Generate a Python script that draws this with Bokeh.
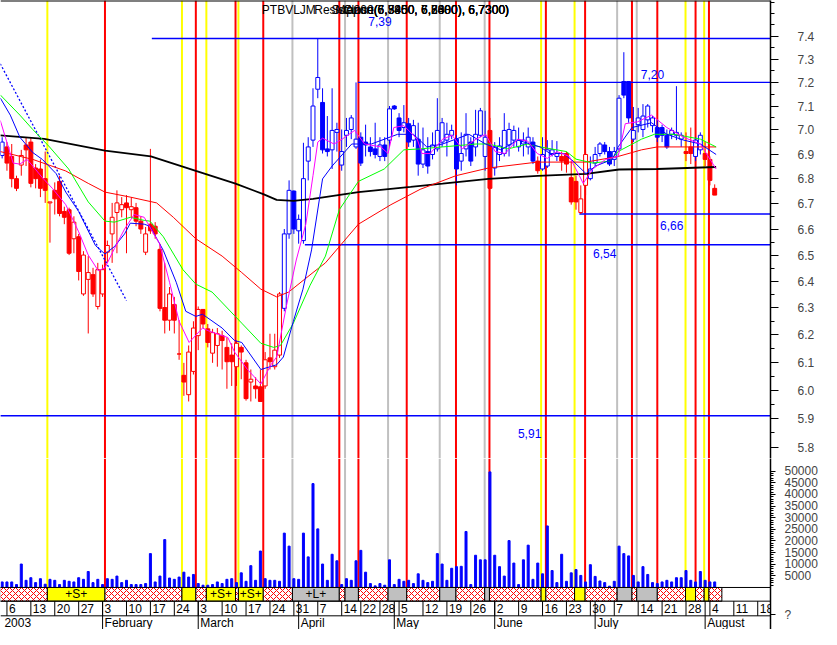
import pandas as pd
from bokeh.plotting import figure
from bokeh.models import (Range1d, LinearScale, LogAxis, LinearAxis, FixedTicker,
                          PrintfTickFormatter, Span, ColumnDataSource)
from bokeh.layouts import column
from bokeh.core.properties import value
from bokeh.embed import file_html
from bokeh.resources import INLINE

FONT = "Liberation Sans"

# ---------------- trading calendar (x = trading-day index, 0 = 3 Jan 2003)
HOLIDAYS = ["2003-04-18", "2003-04-21", "2003-05-01"]
dates = [d for d in pd.bdate_range("2003-01-03", "2003-08-22")
         if d.strftime("%Y-%m-%d") not in HOLIDAYS]

# ---------------- daily candles (price)
OPEN = [6.895, 6.930, 6.891, 6.801, 6.856, 6.938, 6.950, 6.844, 6.840, 6.801,
        6.704, 6.754, 6.790, 6.670, 6.677, 6.563, 6.571, 6.352, 6.407, 6.425,
        6.305, 6.352, 6.511, 6.582, 6.666, 6.677, 6.704, 6.677, 6.685, 6.632,
        6.511, 6.620, 6.612, 6.522, 6.301, 6.254, 6.312, 6.130, 6.053, 5.984,
        6.067, 6.197, 6.294, 6.222, 6.133, 6.161, 6.197, 6.154, 6.126, 6.084,
        6.154, 6.098, 6.029, 6.015, 6.012, 6.015, 6.116, 6.084, 6.126, 6.298,
        6.582, 6.751, 6.594, 6.556, 6.872, 6.958, 7.171, 7.115, 6.922, 6.918,
        6.990, 6.856, 6.978, 7.002, 6.930, 6.970, 6.950, 6.930, 6.922, 6.891,
        6.938, 6.958, 7.100, 7.050, 7.010, 7.026, 6.958, 6.962, 6.860, 6.911,
        6.899, 6.922, 6.950, 6.958, 6.978, 6.962, 6.872, 6.922, 6.950, 6.930,
        6.978, 6.891, 6.998, 6.844, 6.899, 6.903, 6.938, 6.958, 6.930, 6.942,
        6.930, 6.950, 6.872, 6.840, 6.852, 6.899, 6.891, 6.891, 6.903, 6.805,
        6.790, 6.666, 6.774, 6.801, 6.864, 6.903, 6.938, 6.911, 6.879, 6.922,
        7.204, 7.204, 6.962, 7.022, 7.002, 7.042, 7.018, 7.010, 7.010, 6.978,
        6.982, 6.978, 6.962, 6.911, 6.930, 6.891, 6.918, 6.903, 6.879, 6.762]
HIGH = [6.970, 6.950, 6.942, 6.813, 6.918, 6.970, 6.970, 6.860, 6.879, 6.911,
        6.708, 6.786, 6.813, 6.689, 6.685, 6.651, 6.582, 6.515, 6.496, 6.451,
        6.470, 6.463, 6.556, 6.704, 6.754, 6.727, 6.735, 6.727, 6.704, 6.651,
        6.609, 6.922, 6.628, 6.544, 6.470, 6.378, 6.341, 6.254, 6.098, 6.161,
        6.250, 6.305, 6.294, 6.240, 6.222, 6.225, 6.215, 6.190, 6.169, 6.179,
        6.161, 6.109, 6.074, 6.046, 6.074, 6.137, 6.204, 6.204, 6.359, 6.601,
        6.794, 6.754, 6.658, 6.947, 6.970, 7.175, 7.390, 7.175, 7.058, 7.175,
        7.030, 7.002, 7.050, 7.062, 7.200, 6.990, 7.022, 6.970, 7.030, 6.970,
        6.970, 7.100, 7.104, 7.070, 7.104, 7.050, 7.042, 7.030, 7.010, 6.970,
        6.990, 7.133, 7.050, 7.030, 7.022, 6.978, 6.990, 7.070, 6.970, 7.084,
        7.092, 7.080, 7.050, 6.950, 6.970, 7.070, 7.030, 7.018, 7.010, 6.990,
        7.010, 6.970, 6.891, 6.970, 6.958, 6.958, 6.954, 6.911, 6.911, 6.872,
        6.813, 6.774, 6.911, 6.891, 6.930, 6.950, 6.950, 6.930, 6.930, 7.146,
        7.330, 7.204, 7.096, 7.092, 7.108, 7.108, 7.058, 7.042, 7.022, 7.002,
        7.010, 7.184, 6.990, 6.990, 7.010, 6.970, 6.990, 6.950, 6.891, 6.778]
LOW = [6.883, 6.833, 6.766, 6.751, 6.813, 6.852, 6.766, 6.762, 6.727, 6.704,
       6.548, 6.658, 6.651, 6.620, 6.500, 6.507, 6.403, 6.345, 6.205, 6.341,
       6.294, 6.341, 6.470, 6.470, 6.507, 6.647, 6.507, 6.647, 6.612, 6.582,
       6.500, 6.582, 6.563, 6.287, 6.205, 6.215, 6.205, 6.109, 5.980, 5.960,
       6.056, 6.144, 6.225, 6.154, 6.098, 6.084, 6.074, 6.005, 6.015, 6.015,
       6.039, 5.963, 5.960, 5.970, 5.960, 6.005, 6.074, 6.074, 6.116, 6.287,
       6.563, 6.582, 6.544, 6.544, 6.794, 6.930, 7.133, 6.903, 6.891, 6.840,
       6.911, 6.833, 6.930, 6.962, 6.922, 6.852, 6.891, 6.891, 6.883, 6.872,
       6.872, 6.930, 7.084, 6.970, 6.990, 6.930, 6.930, 6.813, 6.844, 6.821,
       6.879, 6.911, 6.930, 6.891, 6.962, 6.774, 6.833, 6.891, 6.852, 6.891,
       6.970, 6.833, 6.544, 6.813, 6.872, 6.891, 6.891, 6.930, 6.911, 6.891,
       6.899, 6.860, 6.821, 6.833, 6.844, 6.891, 6.872, 6.833, 6.825, 6.697,
       6.677, 6.660, 6.735, 6.794, 6.852, 6.891, 6.899, 6.852, 6.852, 6.911,
       7.133, 7.030, 6.950, 6.990, 6.970, 7.010, 6.990, 6.950, 6.950, 6.922,
       6.962, 6.958, 6.930, 6.872, 6.860, 6.872, 6.899, 6.852, 6.774, 6.735]
CLOSE = [6.950, 6.864, 6.801, 6.762, 6.895, 6.918, 6.782, 6.801, 6.762, 6.754,
         6.708, 6.720, 6.662, 6.647, 6.507, 6.628, 6.437, 6.500, 6.433, 6.352,
         6.444, 6.444, 6.537, 6.647, 6.704, 6.697, 6.685, 6.689, 6.632, 6.601,
         6.582, 6.594, 6.582, 6.298, 6.254, 6.352, 6.254, 6.130, 6.029, 6.137,
         6.225, 6.294, 6.240, 6.172, 6.208, 6.204, 6.179, 6.102, 6.102, 6.169,
         6.137, 5.970, 6.039, 6.005, 5.960, 6.109, 6.102, 6.144, 6.352, 6.582,
         6.754, 6.601, 6.639, 6.801, 6.930, 7.100, 7.221, 6.918, 6.911, 6.998,
         7.002, 6.911, 6.998, 7.050, 6.962, 6.864, 6.938, 6.911, 6.899, 6.938,
         6.891, 7.088, 7.088, 6.998, 7.030, 6.950, 7.018, 6.860, 6.918, 6.852,
         6.938, 6.998, 7.030, 6.982, 6.998, 6.840, 6.903, 6.982, 6.872, 6.982,
         7.080, 6.970, 6.762, 6.930, 6.934, 6.998, 7.002, 6.998, 6.958, 6.958,
         6.970, 6.872, 6.833, 6.899, 6.918, 6.918, 6.903, 6.872, 6.860, 6.708,
         6.708, 6.720, 6.899, 6.840, 6.899, 6.942, 6.911, 6.860, 6.911, 7.133,
         7.146, 7.050, 6.998, 7.050, 7.058, 7.100, 7.050, 6.970, 6.978, 6.930,
         6.998, 6.990, 6.978, 6.903, 6.903, 6.958, 6.978, 6.879, 6.794, 6.735]
# candle colour regime, run-length coded: (colour, number of days)
TREND_RUNS = [("B", 1), ("R", 58), ("B", 43), ("R", 1), ("B", 9), ("R", 1), ("B", 4),
              ("R", 6), ("B", 20), ("R", 2), ("B", 2), ("R", 3)]
VOLUME = [2380, 2380, 2380, 1260, 10080, 3080, 4200, 2100, 3780, 1400,
          3500, 3080, 1260, 3080, 2660, 2380, 4200, 3500, 6860, 2100,
          3500, 1260, 3780, 3500, 4900, 2100, 3080, 1260, 1260, 1260,
          1680, 14560, 2380, 4900, 20580, 4060, 3500, 4480, 6580, 4480,
          5600, 1680, 980, 980, 1260, 2380, 1680, 3500, 3780, 2100,
          6300, 2660, 9380, 3080, 15680, 3780, 3080, 3080, 2660, 23380,
          17780, 3780, 3500, 23380, 13160, 44660, 25200, 10080, 3080, 14280,
          11480, 1260, 3780, 3080, 11480, 15960, 6580, 1680, 700, 1680,
          980, 11900, 1260, 3500, 2660, 3080, 1680, 5880, 3080, 2100,
          2660, 14560, 10080, 3080, 8260, 8960, 9100, 24080, 1260, 13860,
          11900, 11900, 49700, 13860, 8960, 4900, 20160, 10500, 1260, 11900,
          18200, 3500, 10500, 5880, 26460, 7280, 2100, 14280, 2660, 6300,
          7700, 5180, 2380, 9800, 4760, 2800, 2100, 560, 2660, 17780,
          14560, 13580, 5180, 2380, 8960, 5600, 2100, 1680, 2380, 3080,
          2380, 4200, 4200, 7280, 3080, 2380, 6860, 3080, 2380, 2380]

# ---------------- moving averages (day index, price)
MA5_IDX = [-0.4, 1.1, 2.3, 3.7, 5.2, 6.4, 8.4, 10.5, 13.3, 16, 18, 20.1, 21.5, 23.5, 25.6, 27.6,
           29.7, 30.3, 32.9, 35, 37, 39.1, 41.9, 43.1, 47.2, 48.6, 51.3, 54.1, 56.2, 57.4, 59.5,
           61.5, 63.5, 65, 66, 67, 69.4, 71.1, 73.7, 75.8, 79.2, 80.7, 81.9, 84, 86.8, 87.8, 89.5,
           92.1, 94.1, 96.2, 99.1, 101.1, 103.1, 105.2, 107.8, 109.9, 111.9, 114, 116, 118.6,
           120.7, 121.5, 123.5, 126.2, 128.8, 130.3, 132.9, 135.8, 139, 142.5, 146, 149.3]
MA5_VAL = [7.040, 6.942, 6.864, 6.860, 6.879, 6.852, 6.805, 6.762, 6.697, 6.590, 6.500, 6.440,
           6.451, 6.526, 6.601, 6.658, 6.647, 6.628, 6.544, 6.396, 6.250, 6.172, 6.225, 6.215,
           6.190, 6.137, 6.074, 6.022, 6.091, 6.119, 6.312, 6.481, 6.620, 6.813, 6.950, 6.966,
           6.942, 6.962, 6.998, 6.942, 6.930, 6.903, 7.010, 7.018, 6.962, 6.903, 6.903, 6.962,
           6.978, 6.922, 6.962, 6.982, 6.911, 6.903, 6.962, 6.954, 6.903, 6.883, 6.911, 6.891,
           6.813, 6.782, 6.840, 6.879, 6.891, 7.026, 7.034, 7.062, 7.010, 6.970, 6.942, 6.840]
MA10_IDX = [-0.4, 1.7, 3.7, 6.4, 8.4, 11.3, 13.3, 16, 19.5, 21.5, 23.5, 25.6, 26.8, 29.7, 30.9,
            33.7, 36.4, 38.4, 40.5, 41.9, 46, 48.6, 50.1, 54.1, 57.4, 58.8, 60.9, 62.9, 64.7, 67,
            69, 73.1, 77.2, 82.7, 86, 88.8, 92.1, 97.6, 101.1, 104.3, 107.8, 112.5, 114.6, 117.4,
            119.4, 122.1, 124.1, 127.6, 128.8, 131.7, 135.8, 139, 142.5, 146, 149.3]
MA10_VAL = [7.134, 7.062, 6.970, 6.907, 6.879, 6.821, 6.747, 6.670, 6.537, 6.504, 6.533, 6.582,
            6.624, 6.620, 6.612, 6.518, 6.396, 6.287, 6.268, 6.276, 6.225, 6.179, 6.172, 6.074,
            6.091, 6.119, 6.250, 6.370, 6.520, 6.800, 6.852, 6.942, 6.942, 6.982, 6.982, 6.930,
            6.942, 6.982, 6.942, 6.918, 6.958, 6.930, 6.903, 6.903, 6.872, 6.821, 6.852, 6.879,
            6.930, 7.010, 7.030, 6.982, 6.958, 6.942, 6.899]
MA20_IDX = [-0.4, 3.7, 6.4, 9.9, 13.9, 18, 21.5, 23.5, 26.8, 29.7, 30.9, 33.7, 37.8, 40.5, 43.9,
            50.1, 54.1, 56.8, 58.2, 60.9, 64.4, 67.6, 70.5, 74.5, 79.9, 84, 87.4, 92.1, 99.1,
            101.7, 105.8, 109.9, 112.5, 118, 120, 123.5, 127, 128.8, 133.7, 136.4, 140.5, 146, 149.3]
MA20_VAL = [7.147, 7.062, 7.002, 6.930, 6.840, 6.708, 6.632, 6.628, 6.647, 6.635, 6.632, 6.571,
            6.444, 6.389, 6.359, 6.243, 6.169, 6.154, 6.161, 6.243, 6.385, 6.496, 6.677, 6.790,
            6.840, 6.918, 6.922, 6.930, 6.942, 6.942, 6.922, 6.942, 6.930, 6.911, 6.880, 6.864,
            6.872, 6.911, 6.962, 6.982, 6.982, 6.962, 6.930]
MA50_IDX = [-0.4, 6.4, 13.3, 18, 21.5, 26.8, 32.3, 35.8, 40.5, 46, 50.1, 54.1, 57.4, 59.9, 65,
            67.6, 74.5, 81.3, 87.4, 94.9, 101.7, 111.9, 122.1, 128.8, 133.7, 137, 149.3]
MA50_VAL = [6.911, 6.879, 6.832, 6.782, 6.747, 6.727, 6.704, 6.647, 6.563, 6.496, 6.433, 6.370,
            6.341, 6.359, 6.433, 6.470, 6.620, 6.697, 6.758, 6.813, 6.844, 6.868, 6.868, 6.891,
            6.918, 6.930, 6.930]
MA200_IDX = [-0.4, 8.8, 21.5, 31.1, 40.5, 48.8, 54.6, 57.4, 60.9, 65, 74.5, 85.4, 92.1, 101.7,
             112, 122.1, 129, 137, 149.3]
MA200_VAL = [6.978, 6.963, 6.915, 6.891, 6.832, 6.781, 6.739, 6.716, 6.712, 6.720, 6.747, 6.768,
             6.781, 6.800, 6.812, 6.820, 6.838, 6.840, 6.848]
TRENDLINE_IDX = [-0.4, 26.0]
TRENDLINE_VAL = [7.280, 6.327]

# ---------------- support / resistance levels
LEVELS = [7.39, 7.20, 6.66, 6.54, 5.91]
LEVEL_START = [31.3, 74.4, 120.7, 63.3, -0.4]
LEVEL_TEXT = ["7,39", "7,20", "6,66", "6,54", "5,91"]
LEVEL_LABEL_IDX = [79.0, 136.0, 140.0, 126.0, 110.3]

# ---------------- signals (day position, kind: S = short, X = neutral, L = long)
SIGNAL_POS = [9.45, 21.5, 37.6, 40.5, 42.7, 48.8, 49.4, 54.6, 60.7, 70.5, 71.7, 74.5, 80.7, 84.6,
              91.5, 94.9, 100.9, 101.9, 112.7, 113.7, 119.7, 121.9, 128.6, 131.7, 132.7, 137.0,
              142.9, 145.0, 146.8, 147.8]
SIGNAL_KIND = ["S", "X", "S", "X", "S", "X", "S", "X", "L", "X", "L", "X", "L", "X",
               "L", "X", "L", "X", "S", "X", "S", "X", "L", "X", "L", "X",
               "S", "X", "S", "X"]
SIGNAL_FIRST_KIND = "X"
SIGNAL_START = -0.5
SIGNAL_END = 150.5

PRICE_TICKS = [5.8, 5.9, 6.0, 6.1, 6.2, 6.3, 6.4, 6.5, 6.6, 6.7, 6.8, 6.9, 7.0, 7.1, 7.2, 7.3, 7.4]
VOL_TICKS = [5000, 10000, 15000, 20000, 25000, 30000, 35000, 40000, 45000, 50000]
QMARK_POS = -11800   # position of the "?" marker on the volume scale

# ---------------- derived
n = len(CLOSE)
idx = list(range(n))
trend = [c for c, k in TREND_RUNS for _ in range(k)]
RED, BLUE = "#FF0000", "#0000FF"
ccol = [RED if t == "R" else BLUE for t in trend]
body_top = [max(o, c) for o, c in zip(OPEN, CLOSE)]
body_bot = [min(o, c) for o, c in zip(OPEN, CLOSE)]
body_fill = [col if c < o else "white" for col, o, c in zip(ccol, OPEN, CLOSE)]
LINE_COLOR = {"S": "#FFFF00", "X": "#FF0000", "L": "#C0C0C0"}

xr = Range1d(-0.347, 160.67)

# ================= price panel
top = figure(frame_width=770, frame_height=458, x_range=xr, y_range=Range1d(5.762, 7.558),
             y_axis_type="log", x_axis_location=None, y_axis_location=None,
             toolbar_location=None, output_backend="svg", min_border=0,
             outline_line_color=None)
top.grid.visible = False
top.extra_y_ranges = {"lay": Range1d(470, 0)}
top.extra_y_scales = {"lay": LinearScale()}

top.segment(x0=SIGNAL_POS, y0=470, x1=SIGNAL_POS, y1=0, y_range_name="lay",
            line_color=[LINE_COLOR[k] for k in SIGNAL_KIND], line_width=2)
top.add_layout(Span(location=0, dimension="width", y_range_name="lay",
                    line_color="black", line_width=2))
top.segment(x0=LEVEL_START, y0=LEVELS, x1=[xr.end] * len(LEVELS), y1=LEVELS,
            line_color=BLUE, line_width=1.4)
top.line(TRENDLINE_IDX, TRENDLINE_VAL, line_color=BLUE, line_width=1.3, line_dash="2 2")

top.segment(x0=idx, y0=LOW, x1=idx, y1=HIGH, line_color=ccol, line_width=1)
top.vbar(x=idx, width=0.82, top=body_top, bottom=body_bot, fill_color=body_fill,
         line_color=ccol, line_width=1)

top.line(MA200_IDX, MA200_VAL, line_color="black", line_width=1.8)
top.line(MA50_IDX, MA50_VAL, line_color="#FF0000", line_width=1)
top.line(MA20_IDX, MA20_VAL, line_color="#00FF00", line_width=1)
top.line(MA10_IDX, MA10_VAL, line_color="#0000FF", line_width=1)
top.line(MA5_IDX, MA5_VAL, line_color="#FF00FF", line_width=1)

top.text(x=LEVEL_LABEL_IDX, y=LEVELS, text=LEVEL_TEXT, y_offset=[-17, -8, 11, 9, 18],
         text_color=BLUE, text_font=value(FONT), text_font_size="12px",
         text_align="center", text_baseline="middle")

# overprinted title strings
top.text(x=[54.3], y=[10], y_range_name="lay", text=["PTBVLJM"], text_font=value(FONT),
         text_font_size="12px", text_align="left", text_baseline="middle")
top.text(x=[106.0] * 4, y=[10] * 4, y_range_name="lay",
         text=["Resistance(7,3900, 7,2000), 6,7300)", "Support(6,5400, 6,6600), 6,7300)",
               "MA200(6,8450, 6,8480), 6,7300)", "Close(6,7350, 6,7300), 6,7300)"],
         text_font=value(FONT), text_font_size="12px", text_align="right", text_baseline="middle")

pa = LogAxis(ticker=FixedTicker(ticks=PRICE_TICKS,
                                minor_ticks=[5.75 + 0.05 * k for k in range(37)]),
             formatter=PrintfTickFormatter(format="%.1f"))
pa.major_tick_out = 8
pa.major_tick_in = 0
pa.minor_tick_out = 4
pa.minor_tick_in = 0
pa.major_label_standoff = 19
pa.axis_line_width = 1.5
pa.major_label_text_font = FONT
pa.major_label_text_font_size = "12px"
top.add_layout(pa, "right")

# ================= volume / signal / date panel
bot = figure(frame_width=770, frame_height=171, x_range=xr, y_range=Range1d(-18067, 55462),
             x_axis_location=None, y_axis_location=None, toolbar_location=None,
             output_backend="svg", min_border=0, outline_line_color=None)
bot.grid.visible = False
bot.extra_y_ranges = {"lay": Range1d(645, 470)}
bot.extra_y_scales = {"lay": LinearScale()}

bot.segment(x0=SIGNAL_POS, y0=470, x1=SIGNAL_POS, y1=602, y_range_name="lay",
            line_color=[LINE_COLOR[k] for k in SIGNAL_KIND], line_width=2)
bot.vbar(x=idx, width=0.42, top=VOLUME, bottom=0, color=BLUE)

# signal band
edges = [SIGNAL_START] + SIGNAL_POS + [SIGNAL_END]
kinds = [SIGNAL_FIRST_KIND] + SIGNAL_KIND
band_fill = {"S": "#FFFF00", "X": "white", "L": "#C0C0C0"}
band_hatch = {"S": "blank", "X": "diagonal_cross", "L": "blank"}
bsrc = ColumnDataSource(dict(
    left=edges[:-1], right=edges[1:],
    fill=[band_fill[k] for k in kinds], hatch=[band_hatch[k] for k in kinds]))
bot.quad(left="left", right="right", top=602, bottom=616, y_range_name="lay", source=bsrc,
         fill_color="fill", hatch_pattern="hatch", hatch_color="#FF0000", hatch_scale=6,
         hatch_weight=1, line_color="black", line_width=1)
btxt_x, btxt = [], []
for l, r, k in zip(edges[:-1], edges[1:], kinds):
    if k in ("S", "L") and r - l >= 5:
        btxt_x.append((l + r) / 2)
        btxt.append("+S+" if k == "S" else "+L+")
bot.text(x=btxt_x, y=[609] * len(btxt), y_range_name="lay", text=btxt, text_font=value(FONT),
         text_font_size="12px", text_align="center", text_baseline="middle")

# date rows
bot.segment(x0=[xr.start] * 3, x1=[xr.end] * 3, y0=[602, 616, 631], y1=[602, 616, 631],
            y_range_name="lay", line_color="black", line_width=1)
week_idx, week_lbl, seen = [], [], set()
for i, d in enumerate(dates):
    key = tuple(d.isocalendar())[:2]
    if key not in seen:
        seen.add(key)
        if i > 0:
            week_idx.append(i)
            week_lbl.append(str(d.day))
month_idx, month_lbl = [], []
for i, d in enumerate(dates):
    if i > 0 and d.month != dates[i - 1].month:
        month_idx.append(i)
        month_lbl.append(d.strftime("%B"))
bot.segment(x0=week_idx, x1=week_idx, y0=616, y1=631, y_range_name="lay",
            line_color="black", line_width=1)
bot.segment(x0=month_idx, x1=month_idx, y0=616, y1=645, y_range_name="lay",
            line_color="black", line_width=1)
bot.text(x=week_idx, y=[624] * len(week_idx), y_range_name="lay", text=week_lbl, x_offset=2,
         text_font=value(FONT), text_font_size="12px", text_align="left", text_baseline="middle")
bot.text(x=[xr.start + 0.4] + month_idx, y=[638] * (len(month_idx) + 1), y_range_name="lay",
         text=["2003"] + month_lbl, x_offset=2, text_font=value(FONT), text_font_size="12px",
         text_align="left", text_baseline="middle")

va = LinearAxis(ticker=FixedTicker(ticks=VOL_TICKS + [QMARK_POS],
                                   minor_ticks=list(range(1000, 51000, 1000))),
                formatter=PrintfTickFormatter(format="%d"),
                major_label_overrides={QMARK_POS: "?"})
va.major_tick_out = 5
va.major_tick_in = 0
va.minor_tick_out = 3
va.minor_tick_in = 0
va.major_label_standoff = 9
va.axis_line_width = 1.5
va.major_label_text_font = FONT
va.major_label_text_font_size = "12px"
bot.add_layout(va, "right")

layout = column(top, bot)
open("out.html", "w").write(file_html(layout, INLINE, title="PTBVLJM"))
